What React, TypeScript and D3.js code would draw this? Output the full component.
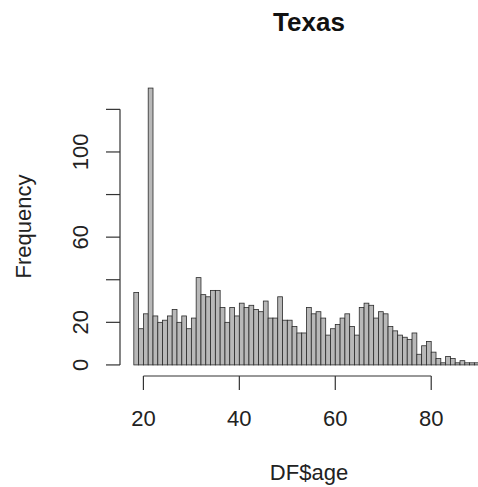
import React, { useEffect, useRef } from 'react';
import * as d3 from 'd3';

// ages are binned one year wide, from 18 up to 90
const ages: number[] = d3.range(18, 90);
const counts: number[] = [
    34, 17, 24, 130, 23, 20, 21, 23, 26, 20,
    23, 17, 22, 41, 33, 32, 35, 35, 27, 20,
    27, 23, 29, 27, 28, 26, 25, 30, 22, 22,
    32, 21, 21, 18, 15, 15, 27, 24, 25, 22,
    14, 17, 19, 22, 24, 18, 14, 27, 29, 28,
    22, 25, 24, 18, 16, 14, 13, 12, 15, 5,
    9, 11, 6, 3, 1, 4, 3, 1, 2, 1,
    1, 1
];
const xTicks: number[] = [20, 40, 60, 80];
const yTicks: number[] = [0, 20, 40, 60, 80, 100, 120];
const yLabels: number[] = [0, 20, 60, 100];

const title = 'Texas';
const xTitle = 'DF$age';
const yTitle = 'Frequency';

const W = 478;
const H = 487;
const FONT = '"Liberation Sans", Arial, Helvetica, sans-serif';

const App: React.FC = () => {
    const ref = useRef<SVGSVGElement>(null);

    useEffect(() => {
        const svg = d3.select(ref.current);
        svg.selectAll('*').remove();

        const lo = ages[0];
        const hi = ages[ages.length - 1] + 1;
        const pad = (hi - lo) * 0.04;
        const maxY = d3.max(counts) as number;

        //R style 4% padding on both axes
        const x = d3.scaleLinear().domain([lo - pad, hi + pad]).range([120, 493]);
        const y = d3.scaleLinear().domain([-maxY * 0.04, maxY * 1.04]).range([376, 77]);

        const bins = ages.map((a, i) => ({ a, n: counts[i] }));

        //bars
        svg.append('g')
            .selectAll('rect')
            .data(bins)
            .enter()
            .append('rect')
            .attr('x', d => x(d.a))
            .attr('width', d => x(d.a + 1) - x(d.a))
            .attr('y', d => y(d.n))
            .attr('height', d => y(0) - y(d.n))
            .attr('fill', '#b8b8b8')
            .attr('stroke', '#2a2a2a')
            .attr('stroke-width', 0.8);

        const axisCol = '#333';
        const tick = 14;

        //x axis, drawn only between the first and last tick
        const xg = svg.append('g');
        xg.append('line')
            .attr('x1', x(xTicks[0])).attr('x2', x(xTicks[xTicks.length - 1]))
            .attr('y1', 376).attr('y2', 376)
            .attr('stroke', axisCol).attr('stroke-width', 1.2);
        xg.selectAll('line.t')
            .data(xTicks)
            .enter()
            .append('line')
            .attr('class', 't')
            .attr('x1', d => x(d)).attr('x2', d => x(d))
            .attr('y1', 376).attr('y2', 376 + tick)
            .attr('stroke', axisCol).attr('stroke-width', 1.2);
        xg.selectAll('text')
            .data(xTicks)
            .enter()
            .append('text')
            .attr('x', d => x(d))
            .attr('y', 426)
            .attr('text-anchor', 'middle')
            .attr('font-size', 22)
            .attr('fill', '#222')
            .text(d => d);

        //y axis
        const yg = svg.append('g');
        yg.append('line')
            .attr('x1', 120).attr('x2', 120)
            .attr('y1', y(yTicks[0])).attr('y2', y(yTicks[yTicks.length - 1]))
            .attr('stroke', axisCol).attr('stroke-width', 1.2);
        yg.selectAll('line.t')
            .data(yTicks)
            .enter()
            .append('line')
            .attr('class', 't')
            .attr('x1', 120 - tick).attr('x2', 120)
            .attr('y1', d => y(d)).attr('y2', d => y(d))
            .attr('stroke', axisCol).attr('stroke-width', 1.2);
        yg.selectAll('text')
            .data(yLabels)
            .enter()
            .append('text')
            .attr('transform', d => `translate(88, ${y(d)}) rotate(-90)`)
            .attr('text-anchor', 'middle')
            .attr('font-size', 22)
            .attr('fill', '#222')
            .text(d => d);

        //titles
        const cx = 309;
        svg.append('text')
            .attr('x', cx).attr('y', 31)
            .attr('text-anchor', 'middle')
            .attr('font-size', 26)
            .attr('font-weight', 'bold')
            .attr('fill', '#111')
            .text(title);
        svg.append('text')
            .attr('x', cx).attr('y', 480)
            .attr('text-anchor', 'middle')
            .attr('font-size', 22)
            .attr('fill', '#222')
            .text(xTitle);
        svg.append('text')
            .attr('transform', `translate(31, ${(y(maxY * 1.04) + y(-maxY * 0.04)) / 2}) rotate(-90)`)
            .attr('text-anchor', 'middle')
            .attr('font-size', 22)
            .attr('fill', '#222')
            .text(yTitle);
    }, []);

    return (
        <svg
            ref={ref}
            width={W}
            height={H}
            style={{ position: 'absolute', left: 0, top: 0, background: '#fff', fontFamily: FONT }}
        ></svg>
    );
};

export default App;
